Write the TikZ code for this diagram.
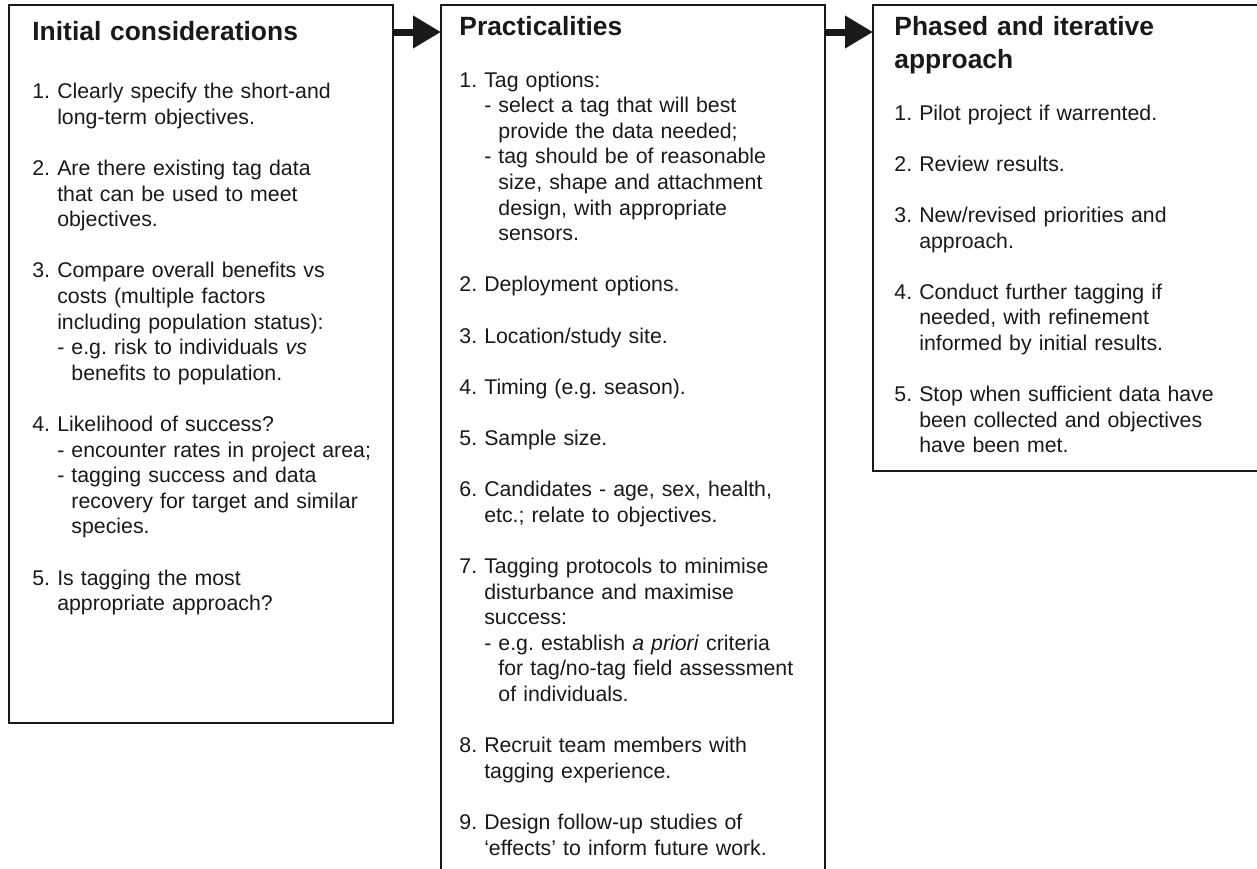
\documentclass[tikz,border=0pt]{standalone}
\usepackage{fontspec}
\setmainfont{Liberation Sans}
\usetikzlibrary{arrows.meta,positioning}
\frenchspacing

% hanging indents for the numbered items and the dashed sub-items
\newcommand{\numind}{\phantom{1.\ }}
\newcommand{\subind}{\phantom{-\ }}

\begin{document}
\begin{tikzpicture}[x=0.5pt, y=-0.5pt,
  box/.style={draw=black!90, line width=1pt, outer sep=0pt, inner sep=0pt, anchor=north west},
  heading/.style={inner sep=0pt, anchor=base west, text width=190pt, align=left,
    text=black!90, font={\fontsize{13.2}{16.5}\selectfont\bfseries}},
  steps/.style={inner sep=0pt, anchor=base west, text width=190pt, align=left,
    text=black!90, font={\fontsize{10.65}{12.8}\selectfont}},
  flow/.style={draw=black!90, line width=3.5pt, -{Triangle[length=14pt, width=15.5pt]}}]
  \useasboundingbox (0,0) rectangle (1257,868);

  % the three boxes
  \node[box, minimum width=192.25pt, minimum height=359pt] (init) at (8.5,5) {};
  \node[box, minimum width=192pt, minimum height=440pt] (prac) at (441,5) {};
  \node[box, minimum width=196pt, minimum height=233pt] (phase) at (873,5) {};

  % arrows between the boxes
  \draw[flow] ([yshift=-13.5pt]init.north east) -- ([yshift=-13.5pt]prac.north west);
  \draw[flow] ([yshift=-13.5pt]prac.north east) -- ([yshift=-13.5pt]phase.north west);

  % initial considerations
  \node[heading] (inittitle) at (32,40) {Initial considerations};
  \node[steps] (initlist) at (32,98.7) {%
    1. Clearly specify the short-and\\
    \numind long-term objectives.\\[12.8pt]
    2. Are there existing tag data\\
    \numind that can be used to meet\\
    \numind objectives.\\[12.8pt]
    3. Compare overall benefits vs\\
    \numind costs (multiple factors\\
    \numind including population status):\\
    \numind - e.g. risk to individuals \textit{vs}\\
    \numind\subind benefits to population.\\[12.8pt]
    4. Likelihood of success?\\
    \numind - encounter rates in project area;\\
    \numind - tagging success and data\\
    \numind\subind recovery for target and similar\\
    \numind\subind species.\\[12.8pt]
    5. Is tagging the most\\
    \numind appropriate approach?};

  % practicalities
  \node[heading] (practitle) at (459,35) {Practicalities};
  \node[steps] (praclist) at (459,87) {%
    1. Tag options:\\
    \numind - select a tag that will best\\
    \numind\subind provide the data needed;\\
    \numind - tag should be of reasonable\\
    \numind\subind size, shape and attachment\\
    \numind\subind design, with appropriate\\
    \numind\subind sensors.\\[12.8pt]
    2. Deployment options.\\[12.8pt]
    3. Location/study site.\\[12.8pt]
    4. Timing (e.g. season).\\[12.8pt]
    5. Sample size.\\[12.8pt]
    6. Candidates - age, sex, health,\\
    \numind etc.; relate to objectives.\\[12.8pt]
    7. Tagging protocols to minimise\\
    \numind disturbance and maximise\\
    \numind success:\\
    \numind - e.g. establish \textit{a priori} criteria\\
    \numind\subind for tag/no-tag field assessment\\
    \numind\subind of individuals.\\[12.8pt]
    8. Recruit team members with\\
    \numind tagging experience.\\[12.8pt]
    9. Design follow-up studies of\\
    \numind ‘effects’ to inform future work.};

  % phased and iterative approach
  \node[heading] (phasetitle) at (894,35) {Phased and iterative\\approach};
  \node[steps] (phaselist) at (894,120) {%
    1. Pilot project if warrented.\\[12.8pt]
    2. Review results.\\[12.8pt]
    3. New/revised priorities and\\
    \numind approach.\\[12.8pt]
    4. Conduct further tagging if\\
    \numind needed, with refinement\\
    \numind informed by initial results.\\[12.8pt]
    5. Stop when sufficient data have\\
    \numind been collected and objectives\\
    \numind have been met.};
\end{tikzpicture}
\end{document}
